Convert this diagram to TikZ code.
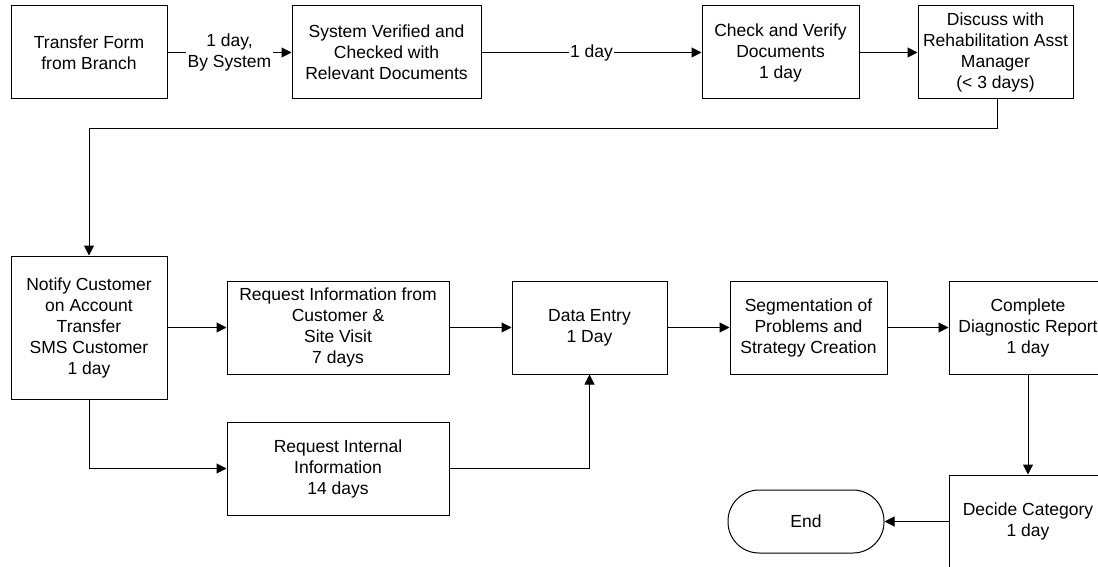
\documentclass[tikz,border=0pt]{standalone}
\usepackage{fontspec}
\setmainfont{Liberation Sans}
\usetikzlibrary{arrows.meta}
\begin{document}
\begin{tikzpicture}[x=1pt,y=-1pt,
  every node/.style={font=\fontsize{17.5}{21}\selectfont, align=center},
  box/.style={draw=black, line width=1pt, fill=white, inner sep=0pt, minimum width=#1},
  box/.default=156pt,
  arr/.style={line width=1pt, -{Triangle[length=10pt,width=10pt]}},
  lbl/.style={fill=white, inner xsep=1.5pt, inner ysep=0pt}]
\clip (0,0) rectangle (1098,567);
\fill[white] (0,0) rectangle (1098,567);
% top row
\node[box=156pt, minimum height=93pt] (transfer) at (89,52.5) {Transfer Form\\from Branch};
\node[box=189pt, minimum height=93pt] (system) at (386.5,52.5) {System Verified and\\Checked with\\Relevant Documents};
\node[box=157pt, minimum height=93pt] (check) at (780.5,52.5) {Check and Verify\\Documents\\1 day};
\node[box=155pt, minimum height=93pt] (discuss) at (995.5,52.5) {Discuss with\\Rehabilitation Asst\\Manager\\(< 3 days)};
% middle row
\node[box=156pt, minimum height=143pt] (notify) at (89,327.5) {Notify Customer\\on Account\\Transfer\\SMS Customer\\1 day};
\node[box=222pt, minimum height=93pt] (reqinfo) at (338,327.5) {Request Information from\\Customer \&\\Site Visit\\7 days};
\node[box=155pt, minimum height=93pt] (data) at (589.5,327.5) {Data Entry\\1 Day};
\node[box=157pt, minimum height=93pt] (seg) at (808.5,327.5) {Segmentation of\\Problems and\\Strategy Creation};
\node[box=158pt, minimum height=93pt] (complete) at (1028,327.5) {Complete\\Diagnostic Report\\1 day};
% bottom row
\node[box=222pt, minimum height=93pt] (reqint) at (338,468.5) {Request Internal\\Information\\14 days};
\node[box=158pt, minimum height=93pt] (decide) at (1028,521.5) {Decide Category\\1 day};
\node[box=156pt, minimum height=63pt, rounded corners=31pt] (end) at (806,521.5) {End};
% connectors
\draw[arr] (transfer) -- node[lbl] {1 day,\\By System} (system);
\draw[arr] (system) -- node[lbl] {1 day} (check);
\draw[arr] (check) -- (discuss);
\coordinate (turn) at (997,129);
\draw[arr] (discuss.south -| turn) |- (turn) -| (notify.north);
\draw[arr] (notify) -- (reqinfo);
\draw[arr] (reqinfo) -- (data);
\draw[arr] (data) -- (seg);
\draw[arr] (seg) -- (complete);
\draw[arr] (notify.south) |- (reqint.west);
\draw[arr] (reqint.east) -| (data.south);
\draw[arr] (complete.south) -- (decide.north);
\draw[arr] (decide.west) -- (end.east);
\end{tikzpicture}
\end{document}
